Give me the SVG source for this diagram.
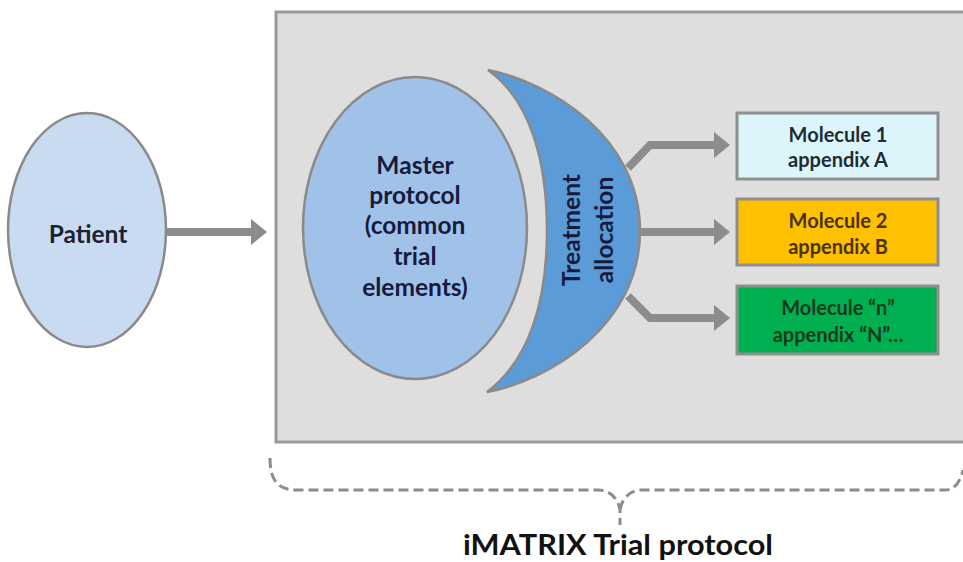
<svg xmlns="http://www.w3.org/2000/svg" width="963" height="562" viewBox="0 0 963 562">
  <style>
    .lbl { font-family: Lato, "Open Sans", "Liberation Sans", sans-serif; font-weight: bold; text-anchor: middle; }
    .conn { fill: none; stroke: #8c8c8c; stroke-width: 8; stroke-linejoin: miter; }
    .box { stroke: #8e8e8e; stroke-width: 3; }
  </style>
  <defs>
    <marker id="ah" markerUnits="userSpaceOnUse" viewBox="0 0 16 26" refX="1" refY="13" markerWidth="16" markerHeight="26" orient="auto">
      <path d="M0,0 L16,13 L0,26 z" fill="#8c8c8c"/>
    </marker>
  </defs>
  <rect width="963" height="562" fill="#ffffff"/>

  <g id="trial-protocol-frame">
    <rect x="276" y="12" width="700" height="430" fill="#dedede" stroke="#9a9a9a" stroke-width="3"/>
  </g>

  <g id="patient">
    <ellipse cx="87" cy="230" rx="79" ry="117" fill="#c9dbf1" stroke="#8a8a8a" stroke-width="2.5"/>
    <text class="lbl" x="88" y="243" font-size="24.5" fill="#1b2233">Patient</text>
  </g>

  <g id="master-protocol">
    <ellipse cx="415" cy="228" rx="112" ry="151" fill="#a0c2e9" stroke="#8a8a8a" stroke-width="2.5"/>
    <g class="lbl" font-size="24.5" fill="#161b3d">
      <text x="415" y="174">Master</text>
      <text x="415" y="204">protocol</text>
      <text x="415" y="234">(common</text>
      <text x="415" y="265">trial</text>
      <text x="415" y="296">elements)</text>
    </g>
  </g>

  <g id="treatment-allocation">
    <path d="M488,70 C550,82 640,137 640,231 C640,325 550,380 487,392 C530,360 547,300 547,231 C547,160 530,100 488,70 Z" fill="#5b9bd8" stroke="#8a8a8a" stroke-width="2.5"/>
    <g class="lbl" font-size="24.5" fill="#161b3d">
      <text transform="translate(580,230) rotate(-90)">Treatment</text>
      <text transform="translate(613,230) rotate(-90)">allocation</text>
    </g>
  </g>

  <g id="molecule-1">
    <rect class="box" x="737" y="113" width="201" height="66" fill="#dcf5fb"/>
    <g class="lbl" font-size="20" fill="#1d2d33">
      <text x="838" y="142">Molecule 1</text>
      <text x="838" y="167">appendix A</text>
    </g>
  </g>

  <g id="molecule-2">
    <rect class="box" x="737" y="199" width="201" height="66" fill="#ffc000"/>
    <g class="lbl" font-size="20" fill="#4a3208">
      <text x="838" y="228">Molecule 2</text>
      <text x="838" y="254">appendix B</text>
    </g>
  </g>

  <g id="molecule-n">
    <rect class="box" x="737" y="286" width="201" height="68" fill="#00b050"/>
    <g class="lbl" font-size="20" fill="#0d3a1c">
      <text x="838" y="315">Molecule “n”</text>
      <text x="838" y="342">appendix “N”…</text>
    </g>
  </g>

  <g id="connectors">
    <path class="conn" d="M167,232 L252,232" marker-end="url(#ah)"/>
    <path class="conn" d="M628,168 L650,145 L715,145" marker-end="url(#ah)"/>
    <path class="conn" d="M638,232 L715,232" marker-end="url(#ah)"/>
    <path class="conn" d="M628,296 L650,318 L715,318" marker-end="url(#ah)"/>
  </g>

  <g id="bracket">
    <path d="M270,458 C270,478 276,490 296,490 L598,490 C610,490 618,498 620,510 L620,525 M620,510 C622,498 630,490 642,490 L945,490 C955,490 960,482 963,470" fill="none" stroke="#8c8c8c" stroke-width="3" stroke-dasharray="10 5"/>
    <text class="lbl" x="618" y="555" font-size="28" textLength="310" lengthAdjust="spacingAndGlyphs" fill="#111111">iMATRIX Trial protocol</text>
  </g>
</svg>
